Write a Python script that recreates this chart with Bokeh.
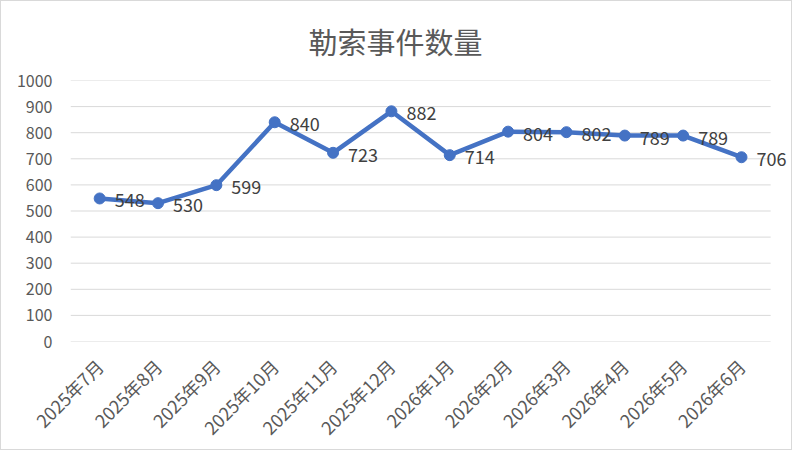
import math
from bokeh.plotting import figure
from bokeh.models import ColumnDataSource, FixedTicker, LabelSet
from bokeh.core.properties import value
from bokeh.embed import file_html
from bokeh.resources import INLINE

months = ["2025年7月", "2025年8月", "2025年9月", "2025年10月", "2025年11月", "2025年12月",
          "2026年1月", "2026年2月", "2026年3月", "2026年4月", "2026年5月", "2026年6月"]
counts = [548, 530, 599, 840, 723, 882, 714, 804, 802, 789, 789, 706]
y_ticks = [0, 100, 200, 300, 400, 500, 600, 700, 800, 900, 1000]
title_text = "勒索事件数量"

idx = list(range(len(months)))
src = ColumnDataSource(dict(x=idx, y=counts, label=[str(c) for c in counts]))

# categorical slots centred on integer positions; extra room on the right for the last label
extra = 0.34
p = figure(width=792, height=450, x_range=(-0.5, len(months) - 0.5 + extra),
           y_range=(y_ticks[0], y_ticks[-1]), output_backend="svg", toolbar_location=None,
           min_border_left=69, min_border_right=3, min_border_top=79, min_border_bottom=110)
p.styles = {"border": "1px solid #d9d9d9"}
p.title.text = title_text
p.title.align = "left"
p.title.vertical_align = "top"
p.title.text_font = "Noto Sans CJK SC"
p.title.text_font_size = "29px"
p.title.text_font_style = "normal"
p.title.text_color = "#595959"
p.title.standoff = 33
p.title.offset = 238
p.outline_line_color = None
p.background_fill_color = "white"
p.border_fill_color = "white"

# horizontal gridlines only across the category slots
p.xgrid.grid_line_color = None
p.ygrid.grid_line_color = None
grid_src = ColumnDataSource(dict(x0=[-0.5] * len(y_ticks), x1=[len(months) - 0.5] * len(y_ticks),
                                 y=y_ticks))
p.segment("x0", "y", "x1", "y", source=grid_src, line_color="#d9d9d9", line_width=1)

p.yaxis.ticker = FixedTicker(ticks=y_ticks)
p.xaxis.ticker = FixedTicker(ticks=idx)
p.xaxis.major_label_overrides = {i: m for i, m in zip(idx, months)}

for ax in (p.xaxis, p.yaxis):
    ax.axis_line_color = None
    ax.major_tick_line_color = None
    ax.minor_tick_line_color = None
    ax.major_label_text_font = "Noto Sans CJK SC"
    ax.major_label_text_color = "#595959"
p.yaxis.major_label_text_font_size = "16px"
p.xaxis.major_label_text_font_size = "18px"
p.xaxis.major_label_orientation = math.pi / 4
p.xaxis.major_label_standoff = 15
p.yaxis.major_label_standoff = 12

p.line("x", "y", source=src, line_color="#4472C4", line_width=4.5)
p.scatter("x", "y", source=src, size=11, fill_color="#4472C4", line_color="#4472C4")
labels = LabelSet(x="x", y="y", text="label", source=src, x_offset=15, y_offset=-2,
                  text_align="left", text_baseline="middle",
                  text_font=value("Noto Sans CJK SC"), text_font_size=value("18px"),
                  text_color=value("#404040"))
p.add_layout(labels)

open("out.html", "w").write(file_html(p, INLINE))
